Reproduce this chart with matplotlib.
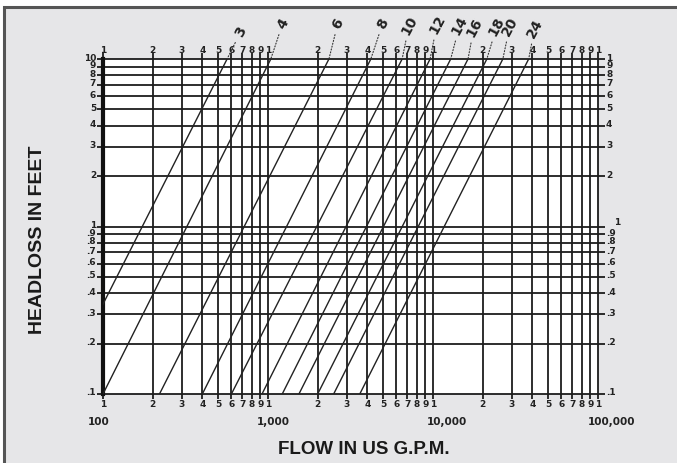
import matplotlib
matplotlib.use('Agg')
import matplotlib.pyplot as plt
from matplotlib.patches import Rectangle
from matplotlib.ticker import NullLocator

# ---- data ----
pipe_sizes = ['3', '4', '6', '8', '10', '12', '14', '16', '18', '20', '24']
flow_at_low_loss = [53, 100, 220, 400, 600, 920, 1220, 1540, 2000, 2500, 3600]        # US GPM at 0.1 ft
flow_at_high_loss = [565, 1040, 2340, 4200, 6500, 9600, 12800, 16300, 21200, 26500, 38000]  # US GPM at 10 ft
low_loss = 0.1
high_loss = 10

flow_decades = [100, 1000, 10000, 100000]
flow_decade_labels = ['100', '1,000', '10,000', '100,000']
loss_left_labels = ['.1', '.2', '.3', '.4', '.5', '.6', '.7', '.8', '.9',
                    '1', '2', '3', '4', '5', '6', '7', '8', '9', '10']
loss_right_labels = ['.1', '.2', '.3', '.4', '.5', '.6', '.7', '.8', '.9',
                     '1', '2', '3', '4', '5', '6', '7', '8', '9', '1']
loss_values = [0.1, 0.2, 0.3, 0.4, 0.5, 0.6, 0.7, 0.8, 0.9,
               1, 2, 3, 4, 5, 6, 7, 8, 9, 10]
flow_grid = [100, 200, 300, 400, 500, 600, 700, 800, 900,
             1000, 2000, 3000, 4000, 5000, 6000, 7000, 8000, 9000,
             10000, 20000, 30000, 40000, 50000, 60000, 70000, 80000, 90000, 100000]
flow_grid_labels = ['1', '2', '3', '4', '5', '6', '7', '8', '9'] * 3 + ['1']

# label placement (pixel offsets of each size label from the top end of its line)
label_dx = [14, 12, 9, 12, 7, 7, 9, 6, 10, 7, 6]
label_dy = [28, 36, 36, 36, 34, 35, 34, 32, 33, 33, 31]

W, H = 677, 464
fig = plt.figure(figsize=(W / 100, H / 100), dpi=100)
fig.patch.set_facecolor('white')
fig.add_artist(Rectangle((4 / W, -0.02), 1.0, 1 - 8 / H + 0.02, transform=fig.transFigure,
                         facecolor='#e6e6e8', edgecolor='#555555', lw=2.2, zorder=0))

ax = fig.add_axes([103 / W, (H - 395) / H, 495 / W, 335 / H])
ax.set_xscale('log')
ax.set_yscale('log')
ax.set_xlim(100, 100000)
ax.set_ylim(0.1, 10)
ax.set_facecolor('white')
for s in ax.spines.values():
    s.set_visible(False)
for axis in (ax.xaxis, ax.yaxis):
    axis.set_major_locator(NullLocator())
    axis.set_minor_locator(NullLocator())

grid_col = '#1c1c1c'
xt = ax.get_xaxis_transform()
yt = ax.get_yaxis_transform()

# vertical grid lines, extended a little above and below
for q, lab in zip(flow_grid, flow_grid_labels):
    ax.plot([q, q], [-5 / 335, 1 + 6 / 335], transform=xt, color=grid_col, lw=1.3,
            clip_on=False, zorder=2, solid_capstyle='butt')
    ax.text(q, 1 + 10 / 335, lab, transform=xt, ha='center', va='center',
            fontsize=6.5, fontweight='bold', color='#222222')
    ax.text(q, -10 / 335, lab, transform=xt, ha='center', va='center',
            fontsize=6.5, fontweight='bold', color='#222222')

# horizontal grid lines, extended a little left and right
for h, ll, rl in zip(loss_values, loss_left_labels, loss_right_labels):
    ax.plot([-6 / 495, 1 + 7 / 495], [h, h], transform=yt, color=grid_col, lw=1.3,
            clip_on=False, zorder=2, solid_capstyle='butt')
    ax.annotate(ll, xy=(-7 / 495, h), xycoords=yt, xytext=(0, 2), textcoords='offset pixels',
                ha='right', va='center', fontsize=6.5, fontweight='bold', color='#222222')
    if rl == '1' and h == 1:
        ax.annotate(rl, xy=(1 + 16 / 495, h), xycoords=yt, xytext=(0, 5), textcoords='offset pixels',
                    ha='left', va='center', fontsize=6.5, fontweight='bold', color='#222222')
    else:
        ax.annotate(rl, xy=(1 + 8 / 495, h), xycoords=yt, xytext=(0, 2), textcoords='offset pixels',
                    ha='left', va='center', fontsize=6.5, fontweight='bold', color='#222222')

# thick left border
ax.plot([0, 0], [0, 1], transform=ax.transAxes, color='#111111', lw=3, clip_on=False, zorder=3)

# pipe size lines
for size, ql, qh, dx, dy in zip(pipe_sizes, flow_at_low_loss, flow_at_high_loss, label_dx, label_dy):
    ax.plot([ql, qh], [low_loss, high_loss], color='#222222', lw=1.0, zorder=4)
    ax.annotate(size, xy=(qh, high_loss), xycoords='data', xytext=(dx, dy),
                textcoords='offset pixels', ha='center', va='center', rotation=62,
                fontsize=10, fontweight='bold', color='#222222',
                arrowprops=dict(arrowstyle='-', linestyle=':', lw=0.8, color='#333333',
                                shrinkA=1, shrinkB=0))

# decade labels
decade_dx = [-4, 5, 14, 14]
for q, lab, dx in zip(flow_decades, flow_decade_labels, decade_dx):
    ax.annotate(lab, xy=(q, -27 / 335), xycoords=xt, xytext=(dx, 0), textcoords='offset pixels',
                ha='center', va='center', fontsize=7.5, fontweight='bold', color='#222222')

fig.text(364 / W, 1 - 450 / H, 'FLOW IN US G.P.M.', ha='center', va='center',
         fontsize=13.5, fontweight='bold', family='Liberation Sans', color='#1a1a1a')
fig.text(38 / W, 1 - 240 / H, 'HEADLOSS IN FEET', ha='center', va='center', rotation=90,
         fontsize=14, fontweight='bold', family='Liberation Sans', color='#1a1a1a')

fig.savefig('out.png', dpi=100)
